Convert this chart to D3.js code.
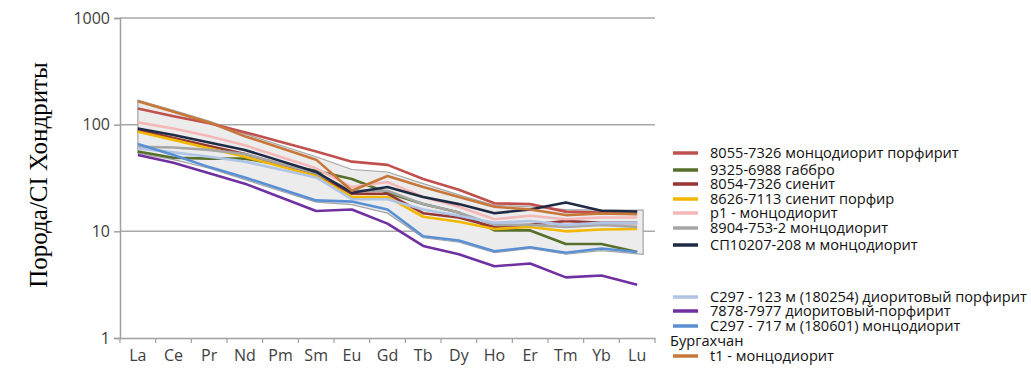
<!DOCTYPE html>
<html>
<head>
<meta charset="utf-8">
<script src="https://cdn.jsdelivr.net/npm/d3@7/dist/d3.min.js"></script>
<style>
  html, body { margin: 0; padding: 0; background: #ffffff; }
  svg { display: block; }
</style>
</head>
<body>
<svg id="chart" width="1031" height="370"></svg>
<script>
// REE elements (chondrite-normalised spider diagram)
const elements = ["La","Ce","Pr","Nd","Pm","Sm","Eu","Gd","Tb","Dy","Ho","Er","Tm","Yb","Lu"];
const yTicks = [1, 10, 100, 1000];

// Sample values, Pm not analysed (null)
const s8055   = [142, 120, 103, 85, null, 56, 45, 42, 31, 24.5, 18.3, 18, 15.3, 15, 15];
const s9325   = [56, 49, 48, 48, null, 37, 31, 23, 18, 15, 10.2, 10.2, 7.6, 7.6, 6.4];
const s8054   = [89, 75, 63, 53, null, 34, 22.5, 22.5, 14.8, 13.5, 11, 11.5, 12.5, 12, 12];
const s8626   = [86, 72, 60, 50, null, 33, 21, 21, 13.7, 12.3, 10.5, 11, 10, 10.4, 10.5];
const sP1     = [105, 92, 78, 64, null, 39, 26, 29, 21, 17, 13, 14, 13, 13.5, 13.5];
const s8904   = [62, 61, 58, 53, null, 35, 24, 24, 18, 15, 11.5, 11.5, 11, 11.5, 11];
const sSP     = [92, 80, 68, 58, null, 36, 23, 26, 21, 18, 14.8, 16, 18.6, 15.6, 15.3];
const sC123   = [60, 55, 50, 45, null, 32, 20, 20, 16, 14, 12, 12.5, 11.5, 12, 12];
const s7878   = [52, 44, 35, 28, null, 15.5, 16, 11.8, 7.3, 6.1, 4.7, 5.0, 3.7, 3.85, 3.15];
const sC717   = [66, 52, 40, 32, null, 19.5, 19, 16, 9, 8.2, 6.5, 7.1, 6.3, 6.9, 6.4];
const sT1     = [166, 132, 105, 78, null, 47, 24, 33, 26, 21, 17, 16, 14.2, 14.7, 14.5];

// Бургахчан field (envelope)
const fieldUpper = [170, 136, 108, 82, null, 50, 38, 36, 28, 22, 17.5, 17, 16, 15.8, 15.8];
const fieldLower = [54, 47, 39, 30.5, null, 18.8, 17.8, 14.8, 8.7, 7.9, 6.3, 6.9, 6.1, 6.6, 6.1];

const seriesNames = [
  "8055-7326 монцодиорит порфирит",
  "9325-6988 габбро",
  "8054-7326 сиенит",
  "8626-7113 сиенит порфир",
  "p1 - монцодиорит",
  "8904-753-2 монцодиорит",
  "СП10207-208 м монцодиорит",
  "C297 - 123 м (180254) диоритовый порфирит",
  "7878-7977 диоритовый-порфирит",
  "C297 - 717 м (180601) монцодиорит",
  "t1 - монцодиорит"
];
const seriesValues = [s8055, s9325, s8054, s8626, sP1, s8904, sSP, sC123, s7878, sC717, sT1];
const seriesColors = ["#c0504d", "#56702c", "#963634", "#f2b800", "#f4b8b8", "#a6a6a6",
                      "#1f2b45", "#b0c4e6", "#7030a0", "#5b8fd4", "#c8773a"];

const svg = d3.select("#chart");
const plot = { left: 120, right: 655, top: 18, bottom: 338 };

const x = d3.scaleBand().domain(elements).range([plot.left, plot.right]).padding(0);
const y = d3.scaleLog().domain([1, 1000]).range([plot.bottom, plot.top]);
const cx = d => x(d) + x.bandwidth() / 2;

// gridlines
svg.append("g")
  .selectAll("line")
  .data(yTicks.filter(t => t > 1))
  .join("line")
  .attr("x1", plot.left).attr("x2", plot.right)
  .attr("y1", d => y(d)).attr("y2", d => y(d))
  .attr("stroke", "#a8a8a8").attr("stroke-width", 1.5);

// field envelope
const up = elements.map((e, i) => ({ e, v: fieldUpper[i] })).filter(d => d.v != null);
const lo = elements.map((e, i) => ({ e, v: fieldLower[i] })).filter(d => d.v != null);
const pad = 6;
const envPts = up.map((d, i) => [cx(d.e) + (i === up.length - 1 ? pad : 0), y(d.v)])
  .concat(lo.slice().reverse().map((d, i) => [cx(d.e) + (i === 0 ? pad : 0), y(d.v)]));
svg.append("path")
  .attr("d", d3.line()(envPts) + "Z")
  .attr("fill", "#ececec")
  .attr("stroke", "#a4a4a4")
  .attr("stroke-width", 1.2);

// y axis
const yAxis = d3.axisLeft(y).tickValues(yTicks).tickFormat(d3.format("d")).tickSize(6).tickPadding(4);
const gy = svg.append("g").attr("transform", `translate(${plot.left},0)`).call(yAxis);
gy.select(".domain").attr("stroke", "#a0a0a0").attr("stroke-width", 1.5);
gy.selectAll(".tick line").attr("stroke", "#a0a0a0").attr("stroke-width", 1.5);
gy.selectAll(".tick text")
  .attr("font-family", "Open Sans, sans-serif").attr("font-size", 16).attr("fill", "#404040");

// x axis
const xAxis = d3.axisBottom(x).tickSize(0).tickPadding(12);
const gx = svg.append("g").attr("transform", `translate(0,${plot.bottom})`).call(xAxis);
gx.select(".domain").attr("stroke", "#a0a0a0").attr("stroke-width", 1.5);
gx.selectAll(".tick text")
  .attr("font-family", "Open Sans, sans-serif").attr("font-size", 16).attr("fill", "#404040");
// category boundary ticks
gx.append("g").selectAll("line")
  .data(elements.concat(["_end"]))
  .join("line")
  .attr("x1", (d, i) => plot.left + i * x.bandwidth())
  .attr("x2", (d, i) => plot.left + i * x.bandwidth())
  .attr("y1", 0).attr("y2", 5)
  .attr("stroke", "#a0a0a0").attr("stroke-width", 1.2);

// series lines
const line = d3.line().x(d => cx(d.e)).y(d => y(d.v));
seriesValues.forEach((vals, k) => {
  const pts = elements.map((e, i) => ({ e, v: vals[i] })).filter(d => d.v != null);
  svg.append("path")
    .attr("d", line(pts))
    .attr("fill", "none")
    .attr("stroke", seriesColors[k])
    .attr("stroke-width", 2.6)
    .attr("stroke-linejoin", "round");
});

// y title
svg.append("text")
  .attr("transform", "translate(47,175) rotate(-90)")
  .attr("text-anchor", "middle")
  .attr("font-family", "Liberation Serif, serif")
  .attr("font-size", 25)
  .attr("fill", "#000")
  .text("Порода/CI Хондриты");

// legend
const legendRows = [
  { name: seriesNames[0], color: seriesColors[0], y: 153 },
  { name: seriesNames[1], color: seriesColors[1], y: 170 },
  { name: seriesNames[2], color: seriesColors[2], y: 184 },
  { name: seriesNames[3], color: seriesColors[3], y: 199 },
  { name: seriesNames[4], color: seriesColors[4], y: 213 },
  { name: seriesNames[5], color: seriesColors[5], y: 228 },
  { name: seriesNames[6], color: seriesColors[6], y: 245 },
  { name: seriesNames[7], color: seriesColors[7], y: 297 },
  { name: seriesNames[8], color: seriesColors[8], y: 311 },
  { name: seriesNames[9], color: seriesColors[9], y: 326 },
  { name: "Бургахчан", color: null, y: 341, noSwatch: true },
  { name: seriesNames[10], color: seriesColors[10], y: 356 }
];
const lg = svg.append("g");
legendRows.forEach(r => {
  if (!r.noSwatch) {
    lg.append("line")
      .attr("x1", 673).attr("x2", 698).attr("y1", r.y).attr("y2", r.y)
      .attr("stroke", r.color).attr("stroke-width", 3.5);
  }
  lg.append("text")
    .attr("x", r.noSwatch ? 670 : 710).attr("y", r.y)
    .attr("dy", "0.35em")
    .attr("font-family", "Open Sans, sans-serif")
    .attr("font-size", 14.6)
    .attr("fill", "#111111")
    .text(r.name);
});
</script>
</body>
</html>
